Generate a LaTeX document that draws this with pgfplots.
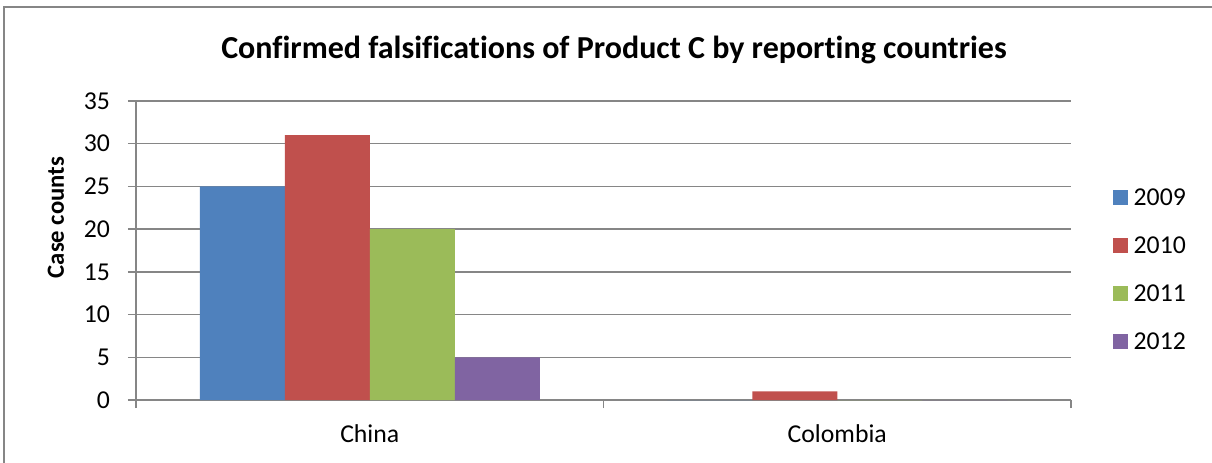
\documentclass[border=0pt]{standalone}
\usepackage{pgfplots}
\pgfplotsset{compat=1.18}
\usepackage{fontspec}
\setmainfont{Carlito}[Ligatures=NoCommon]
\definecolor{c09}{RGB}{79,129,189}
\definecolor{c10}{RGB}{192,80,77}
\definecolor{c11}{RGB}{155,187,89}
\definecolor{c12}{RGB}{128,100,162}
\definecolor{gridg}{RGB}{134,134,134}
\begin{document}
\begin{tikzpicture}
\begin{scope}[x=0.75pt,y=-0.75pt]
\useasboundingbox (0,0) rectangle (1212,462);
\draw[gridg,line width=1.2pt] (4,470) -- (4,7) -- (1212,7);
\node[font=\bfseries\fontsize{24}{28}\selectfont] at (614,50) {Confirmed falsifications of Product C by reporting countries};
\end{scope}
\begin{axis}[
  at={(102pt,-300pt)}, anchor=south west,
  scale only axis, width=701.25pt, height=224.25pt,
  ybar=0pt, bar width=63.75pt,
  xmin=-0.5, xmax=1.5, ymin=0, ymax=35,
  ytick={0,5,...,35},
  xtick={0,1}, xticklabels={China,Colombia},
  minor xtick={-0.5,0.5,1.5},
  major x tick style={draw=none},
  tick align=outside,
  major tick length=6pt, minor tick length=6pt,
  tick style={gridg, line width=1pt},
  axis x line*=bottom, axis y line*=left,
  axis line style={gridg, line width=1pt, -},
  ymajorgrids, grid style={gridg, line width=1pt},
  ticklabel style={font=\fontsize{19.3}{22}\selectfont},
  /pgf/number format/assume math mode=true,
  xticklabel style={yshift=-9pt},
  yticklabel style={xshift=-10pt},
  ylabel={Case counts},
  ylabel style={font=\bfseries\fontsize{18.5}{22}\selectfont, at={(ticklabel cs:0.61)}, yshift=8pt},
  legend style={at={(1.045,0.438)}, anchor=west, draw=none, fill=none, inner sep=0pt,
    font=\fontsize{19.3}{22}\selectfont, row sep=23pt, column sep=4pt,
    nodes={inner sep=0pt, text height=13pt, text depth=0pt, anchor=west}},
  legend cell align=left,
  legend image code/.code={\fill[#1] (0pt,-5.6pt) rectangle (11.25pt,5.6pt);},
]
\addplot[fill=c09, draw=none] coordinates {(0,25) (1,0)};
\addplot[fill=c10, draw=none] coordinates {(0,31) (1,1)};
\addplot[fill=c11, draw=none] coordinates {(0,20) (1,0)};
\addplot[fill=c12, draw=none] coordinates {(0,5) (1,0)};
\legend{2009,2010,2011,2012}
\end{axis}
\end{tikzpicture}
\end{document}
